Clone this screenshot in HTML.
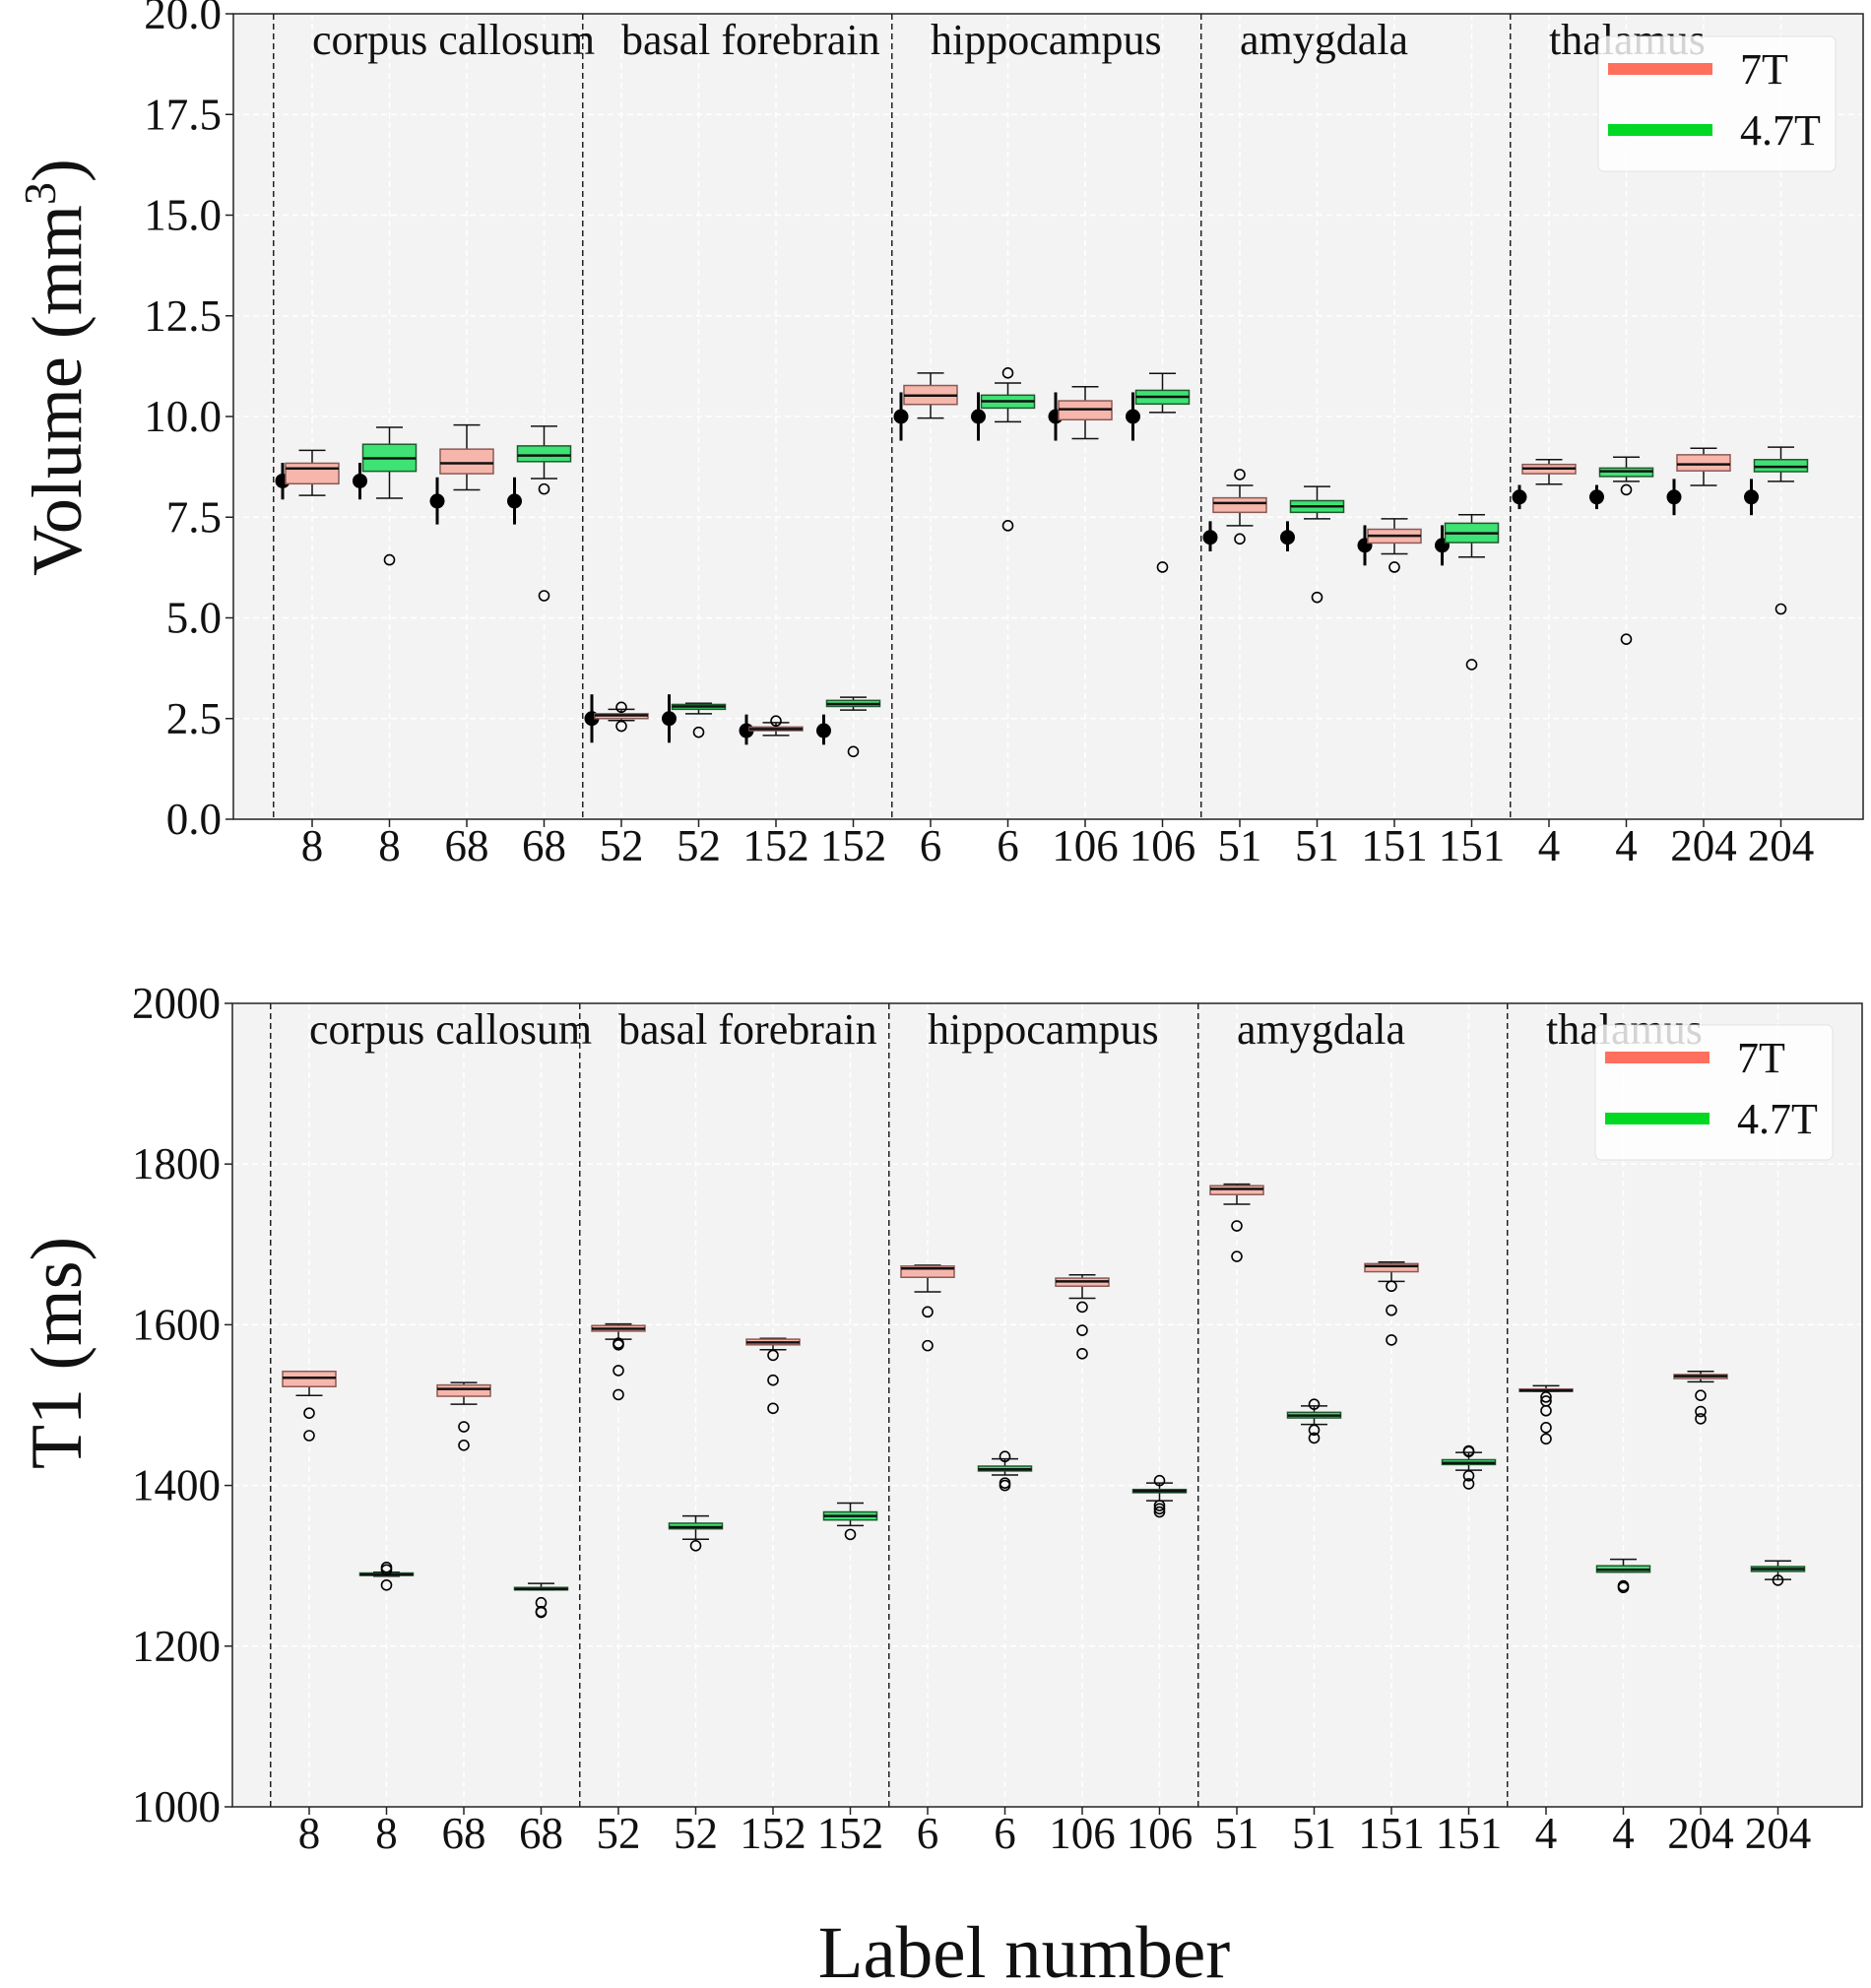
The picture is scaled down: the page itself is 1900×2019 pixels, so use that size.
<!DOCTYPE html>
<html><head><meta charset="utf-8">
<style>
html,body{margin:0;padding:0;background:#fff;}
svg{display:block;font-family:"Liberation Serif","Times New Roman",serif;}
</style></head>
<body>
<svg id="chart" width="1900" height="2019" viewBox="0 0 1900 2019" xmlns="http://www.w3.org/2000/svg"></svg>
<script>
// ---- data ----
const tickLabels = ["8","8","68","68","52","52","152","152","6","6","106","106","51","51","151","151","4","4","204","204"];
const regions = ["corpus callosum","basal forebrain","hippocampus","amygdala","thalamus"];
const series = ["7T","4.7T","7T","4.7T","7T","4.7T","7T","4.7T","7T","4.7T","7T","4.7T","7T","4.7T","7T","4.7T","7T","4.7T","7T","4.7T"];
// volume boxes: [whisker low, q1, median, q3, whisker high]
const volBoxes = [
 [8.04,8.33,8.71,8.84,9.16],[7.97,8.64,8.96,9.31,9.73],[8.18,8.58,8.84,9.19,9.79],[8.46,8.88,9.03,9.27,9.76],
 [2.45,2.50,2.58,2.62,2.73],[2.62,2.73,2.80,2.85,2.88],[2.08,2.20,2.24,2.29,2.40],[2.71,2.80,2.86,2.95,3.03],
 [9.96,10.30,10.52,10.77,11.08],[9.87,10.21,10.38,10.53,10.83],[9.45,9.92,10.18,10.39,10.74],[10.10,10.31,10.49,10.65,11.07],
 [7.29,7.62,7.85,7.98,8.29],[7.46,7.62,7.77,7.91,8.26],[6.59,6.86,7.04,7.20,7.46],[6.51,6.87,7.10,7.35,7.56],
 [8.32,8.58,8.71,8.81,8.93],[8.39,8.51,8.64,8.72,8.99],[8.29,8.65,8.81,9.05,9.21],[8.39,8.63,8.75,8.93,9.24]];
const volOutliers = [[],[6.44],[],[8.2,5.55],[2.78,2.31],[2.16],[2.44],[1.68],[],[11.08,7.29],[],[6.26],[8.56,6.96],[5.51],[6.26],[3.84],[],[8.18,4.47],[],[5.22]];
const volDots = [8.4,8.4,7.9,7.9,2.5,2.5,2.2,2.2,10.0,10.0,10.0,10.0,7.0,7.0,6.8,6.8,8.0,8.0,8.0,8.0];
const volDotLow = [7.94,7.94,7.32,7.32,1.9,1.9,1.85,1.85,9.4,9.4,9.4,9.4,6.65,6.65,6.3,6.3,7.7,7.7,7.55,7.55];
const volDotHigh = [8.85,8.85,8.49,8.49,3.1,3.1,2.6,2.6,10.6,10.6,10.6,10.6,7.4,7.4,7.3,7.3,8.3,8.3,8.45,8.45];
const volTicks = [0,2.5,5,7.5,10,12.5,15,17.5,20];
// T1 boxes
const t1Boxes = [
 [1512,1523,1534,1542,1542],[1287,1288,1289,1291,1292],[1501,1511,1520,1525,1528],[1270,1270,1271,1273,1278],
 [1582,1592,1595,1599,1601],[1333,1346,1348,1353,1362],[1569,1575,1578,1582,1583],[1350,1357,1362,1367,1378],
 [1641,1659,1670,1673,1674],[1413,1418,1420,1424,1433],[1633,1648,1654,1658,1662],[1381,1391,1393,1395,1403],
 [1750,1762,1769,1773,1775],[1476,1484,1487,1491,1499],[1654,1666,1673,1676,1678],[1419,1426,1428,1432,1441],
 [1517,1517,1518,1520,1524],[1292,1292,1295,1300,1308],[1529,1533,1536,1538,1542],[1283,1293,1296,1299,1306]];
const t1Outliers = [[1490,1462],[1298,1295,1276],[1473,1450],[1254,1243,1242],[1577,1575,1543,1513],[1325],[1562,1531,1496],[1339],
 [1616,1574],[1436,1403,1400],[1622,1593,1564],[1406,1375,1371,1367],[1723,1685],[1501,1469,1459],[1648,1618,1581],[1443,1442,1412,1402],
 [1510,1505,1493,1472,1458],[1275,1273],[1512,1492,1483],[1282]];
const t1Ticks = [1000,1200,1400,1600,1800,2000];

// ---- drawing ----
const NS = "http://www.w3.org/2000/svg";
const svg = document.getElementById("chart");
function mk(tag, attrs, parent){
  const e = document.createElementNS(NS, tag);
  for (const k in attrs) e.setAttribute(k, attrs[k]);
  (parent||svg).appendChild(e);
  return e;
}
const colFill = {"7T":"#f7b6ac","4.7T":"#3fe274"};
const colEdge = {"7T":"#8a5a55","4.7T":"#1e5a2e"};

function drawPlot(cfg){
  const g = mk("g", {});
  
  
  const yS = v => cfg.y1 - (v - cfg.ymin) / (cfg.ymax - cfg.ymin) * (cfg.y1 - cfg.y0);
  const xS = i => cfg.xFirst + cfg.step * i;
  const bg = mk("rect", {x:cfg.x0, y:cfg.y0, width:cfg.x1-cfg.x0, height:cfg.y1-cfg.y0, fill:"#f3f3f3"}, g);
  
  
  cfg.ticks.forEach(t => {
    const gl = mk("line", {x1:cfg.x0, x2:cfg.x1, y1:yS(t), y2:yS(t), stroke:"#fff", "stroke-width":1.5, "stroke-dasharray":"6,4"}, g);
    
    
  });
  tickLabels.forEach((l, i) => {
    const gl = mk("line", {x1:xS(i), x2:xS(i), y1:cfg.y0, y2:cfg.y1, stroke:"#fff", "stroke-width":1.5, "stroke-dasharray":"6,4"}, g);
    
    
  });
  for (let r = 0; r < regions.length; r++) {
    const sx = xS(r*4 - 0.5);
    const s = mk("line", {x1:sx, x2:sx, y1:cfg.y0, y2:cfg.y1, stroke:"#222", "stroke-width":1.5, "stroke-dasharray":"6,4"}, g);
    
    
  }
  regions.forEach((r, k) => {
    const t = mk("text", {x:xS(k*4), y:cfg.titleY, "font-size":44, fill:"#111"}, g);
    t.textContent = r;
    
    
  });
  if (cfg.dots) {
    cfg.dots.forEach((v, i) => {
      const dx = xS(i) - 30;
      const el = mk("line", {x1:dx, x2:dx, y1:yS(cfg.dotLow[i]), y2:yS(cfg.dotHigh[i]), stroke:"#000", "stroke-width":3}, g);
      
      
      const c = mk("circle", {cx:dx, cy:yS(v), r:7.5, fill:"#000"}, g);
      
      
    });
  }
  const bw = 54, cw = 27;
  cfg.boxes.forEach((b, i) => {
    const cx = xS(i), s = series[i];
    const bg2 = mk("g", {}, g);
    
    
    const st = {stroke:"#111", "stroke-width":1.5};
    mk("line", Object.assign({x1:cx, x2:cx, y1:yS(b[0]), y2:yS(b[1])}, st), bg2);
    mk("line", Object.assign({x1:cx, x2:cx, y1:yS(b[3]), y2:yS(b[4])}, st), bg2);
    mk("line", Object.assign({x1:cx-cw/2, x2:cx+cw/2, y1:yS(b[0]), y2:yS(b[0])}, st), bg2);
    mk("line", Object.assign({x1:cx-cw/2, x2:cx+cw/2, y1:yS(b[4]), y2:yS(b[4])}, st), bg2);
    mk("rect", {x:cx-bw/2, y:yS(b[3]), width:bw, height:Math.max(2, yS(b[1])-yS(b[3])), fill:colFill[s], stroke:colEdge[s], "stroke-width":1.5}, bg2);
    mk("line", {x1:cx-bw/2, x2:cx+bw/2, y1:yS(b[2]), y2:yS(b[2]), stroke:"#111", "stroke-width":2.5}, bg2);
    cfg.outliers[i].forEach(o => {
      const oc = mk("circle", {cx:cx, cy:yS(o), r:5, fill:"none", stroke:"#000", "stroke-width":1.6}, bg2);
      
      
    });
  });
  const sp = mk("rect", {x:cfg.x0, y:cfg.y0, width:cfg.x1-cfg.x0, height:cfg.y1-cfg.y0, fill:"none", stroke:"#222", "stroke-width":1.5}, g);
  
  
  cfg.ticks.forEach(t => {
    mk("line", {x1:cfg.x0-8, x2:cfg.x0, y1:yS(t), y2:yS(t), stroke:"#222", "stroke-width":1.5}, g);
    const tl = mk("text", {x:cfg.x0-12, y:yS(t)+15, "font-size":45, "text-anchor":"end", fill:"#111"}, g);
    tl.textContent = cfg.fmt(t);
    
    
  });
  tickLabels.forEach((l, i) => {
    mk("line", {x1:xS(i), x2:xS(i), y1:cfg.y1, y2:cfg.y1+8, stroke:"#222", "stroke-width":1.5}, g);
    const tl = mk("text", {x:xS(i), y:cfg.y1+42, "font-size":45, "text-anchor":"middle", fill:"#111"}, g);
    tl.textContent = l;
    
    
  });
  const lg = mk("g", {}, g);
  
  
  mk("rect", {x:cfg.legX, y:cfg.legY, width:241, height:137, rx:6, fill:"rgba(255,255,255,0.82)", stroke:"rgba(220,220,220,0.8)", "stroke-width":1}, lg);
  [["7T","#ff6f5e"],["4.7T","#00d823"]].forEach((e, k) => {
    const ly = cfg.legY + 33 + k*62;
    const le = mk("rect", {x:cfg.legX+10, y:ly-6, width:106, height:12, fill:e[1]}, lg);
    
    
    const lt = mk("text", {x:cfg.legX+144, y:ly+15, "font-size":44, fill:"#111"}, lg);
    lt.textContent = e[0];
    
    
  });
}

drawPlot({name:"volume-plot", x0:237, x1:1892, y0:14, y1:832, xFirst:317, step:78.5, ymin:0, ymax:20,
  ticks:volTicks, fmt:t=>t.toFixed(1), titleY:55, boxes:volBoxes, outliers:volOutliers,
  dots:volDots, dotLow:volDotLow, dotHigh:volDotHigh, legX:1623, legY:37});
drawPlot({name:"t1-plot", x0:236, x1:1891, y0:1019, y1:1835, xFirst:314, step:78.5, ymin:1000, ymax:2000,
  ticks:t1Ticks, fmt:t=>String(t), titleY:1060, boxes:t1Boxes, outliers:t1Outliers,
  dots:null, legX:1620, legY:1041});

const yt1 = mk("text", {x:0, y:0, "font-size":72, "text-anchor":"middle", transform:"translate(82,373) rotate(-90)", fill:"#111"});
yt1.innerHTML = 'Volume (mm<tspan dy="-26" font-size="46">3</tspan><tspan dy="26">)</tspan>';


const yt2 = mk("text", {x:0, y:0, "font-size":74, "text-anchor":"middle", transform:"translate(82,1374) rotate(-90)", fill:"#111"});
yt2.textContent = "T1 (ms)";


const xt = mk("text", {x:1040, y:2008, "font-size":75, "text-anchor":"middle", fill:"#111"});
xt.textContent = "Label number";


</script>
</body></html>
